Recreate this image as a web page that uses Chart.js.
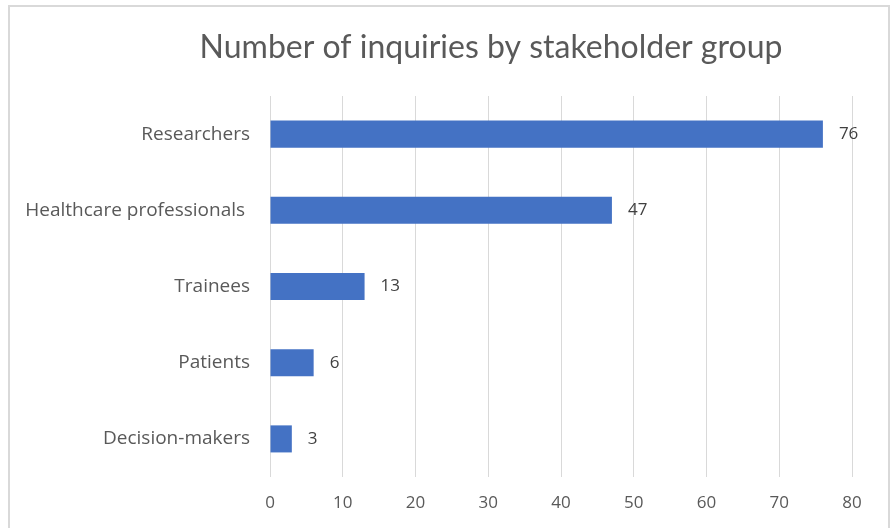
<!DOCTYPE html>
<html>
<head>
<meta charset="utf-8">
<script src="https://cdn.jsdelivr.net/npm/chart.js@4.4.0/dist/chart.umd.min.js"></script>
<style>
    body { margin: 0; background: #fff; }
    #frame {
        position: absolute; left: 8px; top: 5px; width: 878px; height: 600px;
        border: 2px solid #d9d9d9;
    }
    #chart { position: absolute; left: 0; top: 0; }
</style>
</head>
<body>
<div id="frame"></div>
<canvas id="chart" width="893" height="528"></canvas>
<script>
const categories = ['Researchers', 'Healthcare professionals ', 'Trainees', 'Patients', 'Decision-makers'];
const inquiries = [76, 47, 13, 6, 3];
const xTicks = [0, 10, 20, 30, 40, 50, 60, 70, 80];

// value labels right of each bar
const valueLabels = {
    id: 'valueLabels',
    afterDatasetsDraw(chart) {
        const ctx = chart.ctx;
        const meta = chart.getDatasetMeta(0);
        ctx.save();
        ctx.font = '17px "Open Sans"';
        ctx.fillStyle = '#404040';
        ctx.textAlign = 'left';
        ctx.textBaseline = 'middle';
        meta.data.forEach((bar, i) => {
            ctx.fillText(String(inquiries[i]), bar.x + 16, bar.y);
        });
        ctx.restore();
    }
};

// title sits a bit right of the canvas centre, like the original
const shiftTitle = {
    id: 'shiftTitle',
    afterLayout(chart) {
        chart.titleBlock.left = 130;
        chart.titleBlock.right = chart.chartArea.right;
    }
};

new Chart(document.getElementById('chart'), {
    type: 'bar',
    data: {
        labels: categories,
        datasets: [{
            label: 'Number of inquiries',
            data: inquiries,
            backgroundColor: '#4472c4',
            borderWidth: 0,
            barPercentage: 0.355,
            categoryPercentage: 1
        }]
    },
    options: {
        indexAxis: 'y',
        responsive: false,
        animation: false,
        layout: { padding: { left: 10, right: 41, top: 20, bottom: 0 } },
        plugins: {
            legend: { display: false },
            tooltip: { enabled: false },
            title: {
                display: true,
                text: 'Number of inquiries by stakeholder group',
                color: '#595959',
                font: { family: 'Lato', size: 32, weight: 'normal' },
                padding: { top: 8, bottom: 29.6 }
            }
        },
        scales: {
            x: {
                min: 0,
                max: 80,
                afterBuildTicks: axis => { axis.ticks = xTicks.map(v => ({ value: v })); },
                afterFit: axis => { axis.height = 51; },
                grid: { color: '#d9d9d9', lineWidth: 1, drawTicks: false },
                border: { display: false },
                ticks: {
                    color: '#595959',
                    font: { family: 'Open Sans', size: 17 },
                    padding: 16
                }
            },
            y: {
                afterFit: axis => { axis.width = 260; },
                grid: { display: false, drawTicks: false },
                border: { display: false },
                ticks: {
                    color: '#595959',
                    font: { family: 'Open Sans', size: 19 },
                    padding: 20
                }
            }
        }
    },
    plugins: [valueLabels, shiftTitle]
});
</script>
</body>
</html>
